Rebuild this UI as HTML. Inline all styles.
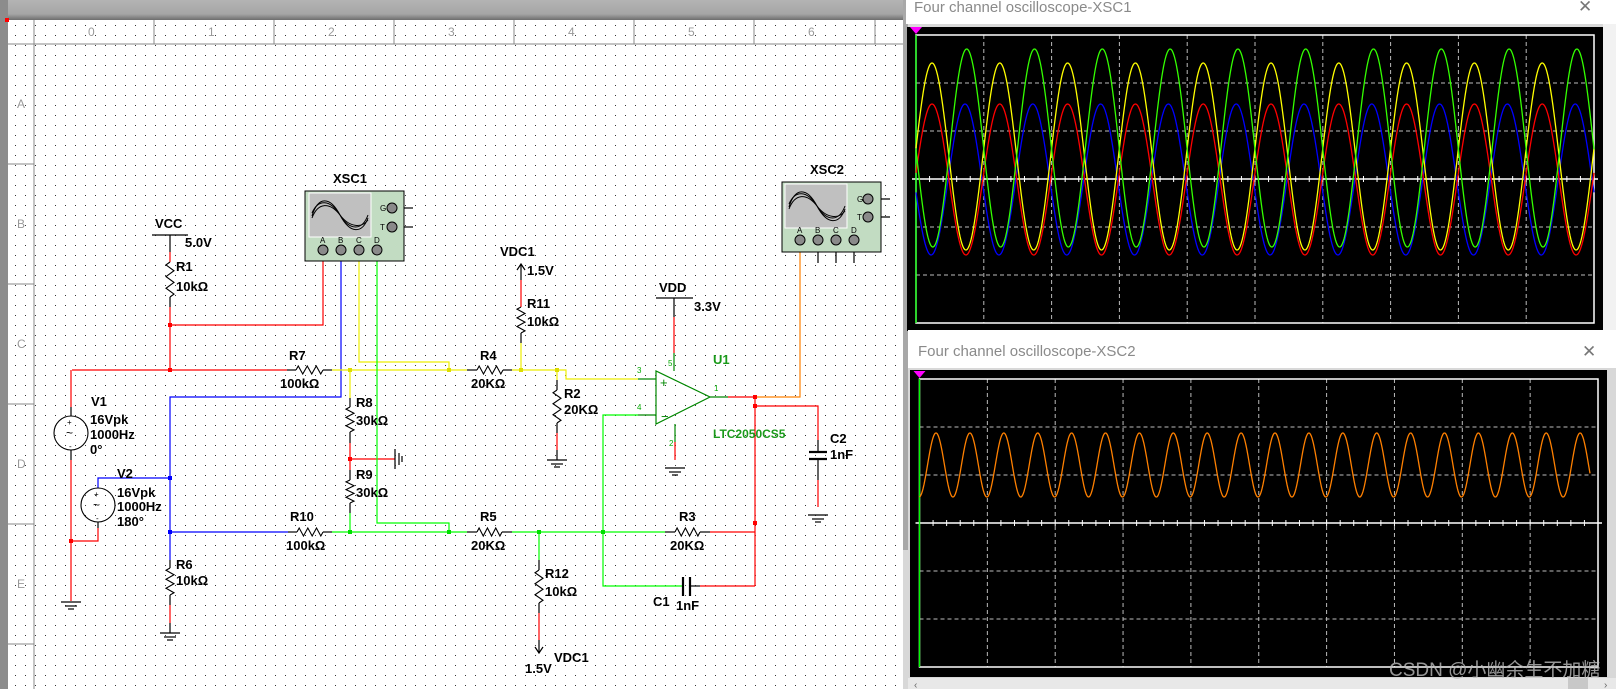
<!DOCTYPE html>
<html><head><meta charset="utf-8"><style>
html,body{margin:0;padding:0;background:#fff;}
svg{display:block;}
.l{font-family:"Liberation Sans",sans-serif;font-size:13px;font-weight:bold;fill:#000;}
.s{font-family:"Liberation Sans",sans-serif;font-size:8px;fill:#000;}
.g{font-family:"Liberation Sans",sans-serif;font-size:8px;fill:#0a0;}
.ru{font-family:"Liberation Sans",sans-serif;font-size:12px;fill:#999;}
.t{font-family:"Liberation Sans",sans-serif;font-size:15px;fill:#8a8a8a;}
</style></head><body>
<svg id="s" width="1616" height="689" viewBox="0 0 1616 689" xmlns="http://www.w3.org/2000/svg">
<defs>
<pattern id="dots" x="5" y="5" width="10" height="10" patternUnits="userSpaceOnUse"><rect x="0" y="0" width="1" height="1" fill="#333"/></pattern>
<linearGradient id="tb" x1="0" y1="0" x2="0" y2="1"><stop offset="0" stop-color="#b4b4b4"/><stop offset="0.7" stop-color="#a6a6a6"/><stop offset="1" stop-color="#6e6e6e"/></linearGradient>
</defs>
<rect x="0" y="0" width="1616" height="689" fill="#fff"/>
<rect x="8" y="20" width="895" height="669" fill="url(#dots)"/>
<rect x="0" y="0" width="903" height="20" fill="url(#tb)"/>
<rect x="0" y="0" width="8" height="689" fill="#8c8c8c"/>
<rect x="5" y="18" width="4" height="4" fill="#f00"/>
<!-- rulers -->
<g stroke="#888" stroke-width="1">
<line x1="8" y1="44" x2="903" y2="44"/><line x1="34" y1="20" x2="34" y2="689"/>
<line x1="154" y1="20" x2="154" y2="44"/><line x1="274" y1="20" x2="274" y2="44"/><line x1="394" y1="20" x2="394" y2="44"/><line x1="514" y1="20" x2="514" y2="44"/><line x1="634" y1="20" x2="634" y2="44"/><line x1="754" y1="20" x2="754" y2="44"/><line x1="875" y1="20" x2="875" y2="44"/>
<line x1="8" y1="164" x2="34" y2="164"/><line x1="8" y1="284" x2="34" y2="284"/><line x1="8" y1="404" x2="34" y2="404"/><line x1="8" y1="524" x2="34" y2="524"/><line x1="8" y1="644" x2="34" y2="644"/>
</g>
<g class="ru"><text x="88" y="36">0</text><text x="208" y="36">1</text><text x="328" y="36">2</text><text x="448" y="36">3</text><text x="568" y="36">4</text><text x="688" y="36">5</text><text x="808" y="36">6</text>
<text x="17" y="108">A</text><text x="17" y="228">B</text><text x="17" y="348">C</text><text x="17" y="468">D</text><text x="17" y="588">E</text></g>

<g id="wires" fill="none" stroke-width="1.2">
<!-- red -->
<g stroke="#f00">
<polyline points="170,307 170,370"/><polyline points="170,252 170,262"/>
<polyline points="170,325 323,325 323,255"/>
<polyline points="72,370 287,370"/>
<polyline points="71,370 71,407"/><polyline points="71,460 71,601"/>
<polyline points="71,541 98,541 98,528"/>
<polyline points="350,443 350,470"/><polyline points="350,459 395,459"/>
<polyline points="521,280 521,307"/>
<polyline points="674,317 674,353"/>
<polyline points="557,433 557,450"/>
<polyline points="675,442 675,460"/>
<polyline points="728,397 755,397 755,586"/>
<polyline points="755,406 818,406 818,440"/><polyline points="818,480 818,507"/>
<polyline points="710,532 755,532"/><polyline points="700,586 755,586"/>
<polyline points="539,613 539,640"/>
<polyline points="170,605 170,623"/>
</g>
<g stroke="#00f">
<polyline points="341,255 341,397 170,397 170,560"/>
<polyline points="170,478 98,478 98,488"/>
<polyline points="170,532 288,532"/>
</g>
<g stroke="#ee0">
<polyline points="359,255 359,362 449,362 449,370"/>
<polyline points="332,370 467,370"/>
<polyline points="350,370 350,398"/>
<polyline points="512,370 566,370 566,379 638,379"/>
<polyline points="521,370 521,343"/>
<polyline points="557,370 557,380"/>
</g>
<g stroke="#0f0">
<polyline points="377,255 377,523 449,523 449,532"/>
<polyline points="332,532 467,532"/>
<polyline points="350,513 350,532"/>
<polyline points="512,532 665,532"/>
<polyline points="539,532 539,560"/>
<polyline points="638,415 603,415 603,586 683,586"/>
</g>
<g stroke="#ff8000"><polyline points="755,397 800,397 800,245"/></g>
<g stroke="#080">
<polyline points="638,379 656,379"/><polyline points="638,415 656,415"/>
<polyline points="674,353 674,371"/><polyline points="675,424 675,442"/>
<polyline points="710,397 728,397"/>
<polygon points="656,371 656,424 710,397"/>
</g>
<!-- black leads -->
<g stroke="#000">
<polyline points="152,235 188,235"/><polyline points="170,235 170,252"/><polyline points="170,297 170,307"/>
<polyline points="287,370 296,370"/><polyline points="323,370 332,370"/>
<polyline points="288,532 297,532"/><polyline points="323,532 332,532"/>
<polyline points="467,370 477,370"/><polyline points="503,370 512,370"/>
<polyline points="467,532 477,532"/><polyline points="502,532 512,532"/>
<polyline points="665,532 675,532"/><polyline points="700,532 710,532"/>
<polyline points="350,398 350,407"/><polyline points="350,432 350,443"/>
<polyline points="350,470 350,480"/><polyline points="350,503 350,513"/>
<polyline points="521,264 521,280"/><polyline points="517,270 521,264 525,270"/><polyline points="521,333 521,343"/>
<polyline points="557,380 557,390"/><polyline points="557,423 557,433"/><polyline points="557,450 557,460"/>
<polyline points="539,560 539,570"/><polyline points="539,603 539,613"/><polyline points="539,640 539,653"/><polyline points="535,647 539,653 543,647"/>
<polyline points="170,560 170,568"/><polyline points="170,595 170,605"/><polyline points="170,623 170,633"/>
<polyline points="656,298 693,298"/><polyline points="674,298 674,317"/>
<polyline points="71,407 71,416"/><polyline points="71,450 71,460"/>
<polyline points="98,488 98,488"/><polyline points="98,522 98,528"/>
<polyline points="818,440 818,452"/><polyline points="818,459 818,480"/>
<polyline points="683,586 683,586"/><polyline points="690,586 700,586"/>
<polyline points="413,208 397,208"/><polyline points="413,227 397,227"/>
<polyline points="890,199 873,199"/><polyline points="890,217 873,217"/>
<polyline points="818,245 818,263"/><polyline points="836,245 836,263"/><polyline points="854,245 854,263"/>
</g>
<g stroke="#000" stroke-width="2.2">
<line x1="809" y1="452" x2="827" y2="452"/><line x1="809" y1="459" x2="827" y2="459"/>
<line x1="683" y1="577" x2="683" y2="596"/><line x1="690" y1="577" x2="690" y2="596"/>
</g>
<g stroke="#000" id="gnds"></g>
<g fill="none" stroke="#000" stroke-width="1.1">
<circle cx="71" cy="433" r="17"/><circle cx="98" cy="505" r="17"/>
</g>
<path id="zz" fill="none" stroke="#000" stroke-width="1.1" d=""/>
</g>
<g class="s"><text x="67" y="425">+</text><text x="69" y="449">-</text><text x="66" y="437" font-size="12">~</text>
<text x="94" y="497">+</text><text x="96" y="521">-</text><text x="93" y="509" font-size="12">~</text></g>
<g fill="#00f"><rect x="168" y="476" width="4" height="4"/><rect x="168" y="530" width="4" height="4"/></g>
<g fill="#f00"><rect x="168" y="323" width="4" height="4"/><rect x="168" y="368" width="4" height="4"/><rect x="69" y="539" width="4" height="4"/><rect x="348" y="457" width="4" height="4"/><rect x="753" y="395" width="4" height="4"/><rect x="753" y="404" width="4" height="4"/><rect x="753" y="521" width="4" height="4"/></g>
<g fill="#dd0"><rect x="348" y="368" width="4" height="4"/><rect x="447" y="368" width="4" height="4"/><rect x="519" y="368" width="4" height="4"/><rect x="555" y="368" width="4" height="4"/></g>
<g fill="#0d0"><rect x="348" y="530" width="4" height="4"/><rect x="447" y="530" width="4" height="4"/><rect x="537" y="530" width="4" height="4"/><rect x="601" y="530" width="4" height="4"/></g>

<!-- scopes symbols -->
<rect x="305" y="191" width="99" height="70" fill="#c2dcc2" stroke="#000"/>
<rect x="309" y="193" width="62" height="44" fill="#c0c0c0" stroke="#fff"/>
<rect x="782" y="182" width="99" height="70" fill="#c2dcc2" stroke="#000"/>
<rect x="785" y="184" width="62" height="44" fill="#c0c0c0" stroke="#fff"/>
<g fill="none" stroke="#000" stroke-width="1">
<path d="M312,216 C318,196 330,196 340,215 C350,234 362,234 368,218"/>
<path d="M312,213 C318,199 330,199 340,215 C350,231 362,231 368,215"/>
<path d="M312,218 C318,202 330,202 340,215 C350,228 362,228 368,220"/>
<path d="M789,207 C795,187 807,187 817,206 C827,225 839,225 845,209"/>
<path d="M789,204 C795,190 807,190 817,206 C827,222 839,222 845,206"/>
<path d="M789,209 C795,193 807,193 817,206 C827,219 839,219 845,211"/>
</g>
<g fill="#8a8a8a" stroke="#000">
<circle cx="392" cy="208" r="5"/><circle cx="392" cy="227" r="5"/>
<circle cx="323" cy="250" r="5"/><circle cx="341" cy="250" r="5"/><circle cx="359" cy="250" r="5"/><circle cx="377" cy="250" r="5"/>
<circle cx="868" cy="199" r="5"/><circle cx="868" cy="217" r="5"/>
<circle cx="800" cy="240" r="5"/><circle cx="818" cy="240" r="5"/><circle cx="836" cy="240" r="5"/><circle cx="854" cy="240" r="5"/>
</g>
<g class="s"><text x="380" y="211">G</text><text x="380" y="230">T</text><text x="320" y="243">A</text><text x="338" y="243">B</text><text x="356" y="243">C</text><text x="374" y="243">D</text>
<text x="857" y="202">G</text><text x="857" y="220">T</text><text x="797" y="233">A</text><text x="815" y="233">B</text><text x="833" y="233">C</text><text x="851" y="233">D</text></g>
<text class="l" x="333" y="183" font-size="11">XSC1</text><text class="l" x="810" y="174" font-size="11">XSC2</text>

<g class="l">
<text x="155" y="228">VCC</text><text x="185" y="247">5.0V</text><text x="176" y="271">R1</text><text x="176" y="291">10kΩ</text>
<text x="289" y="360">R7</text><text x="280" y="388">100kΩ</text>
<text x="91" y="406">V1</text><text x="90" y="424">16Vpk</text><text x="90" y="439">1000Hz</text><text x="90" y="454">0°</text>
<text x="117" y="478">V2</text><text x="117" y="497">16Vpk</text><text x="117" y="511">1000Hz</text><text x="117" y="526">180°</text>
<text x="356" y="407">R8</text><text x="356" y="425">30kΩ</text><text x="356" y="479">R9</text><text x="356" y="497">30kΩ</text>
<text x="290" y="521">R10</text><text x="286" y="550">100kΩ</text>
<text x="176" y="569">R6</text><text x="176" y="585">10kΩ</text>
<text x="480" y="360">R4</text><text x="471" y="388">20KΩ</text>
<text x="480" y="521">R5</text><text x="471" y="550">20KΩ</text>
<text x="500" y="256">VDC1</text><text x="527" y="275">1.5V</text><text x="527" y="308">R11</text><text x="527" y="326">10kΩ</text>
<text x="564" y="398">R2</text><text x="564" y="414">20KΩ</text>
<text x="659" y="292">VDD</text><text x="694" y="311">3.3V</text>
<text x="830" y="443">C2</text><text x="830" y="459">1nF</text>
<text x="679" y="521">R3</text><text x="670" y="550">20KΩ</text>
<text x="653" y="606">C1</text><text x="676" y="610">1nF</text>
<text x="545" y="578">R12</text><text x="545" y="596">10kΩ</text>
<text x="554" y="662">VDC1</text><text x="525" y="673">1.5V</text>
<text x="713" y="364" fill="#1a9a1a">U1</text><text x="713" y="438" fill="#1a9a1a" font-size="12">LTC2050CS5</text>
</g>
<g class="g"><text x="637" y="373">3</text><text x="637" y="410">4</text><text x="714" y="391">1</text><text x="668" y="366">5</text><text x="669" y="446">2</text></g>
<text x="660" y="387" font-family="Liberation Sans" font-size="13" fill="#080">+</text>
<text x="661" y="421" font-family="Liberation Sans" font-size="13" fill="#080">−</text>

<!-- oscilloscope windows -->
<rect x="903" y="0" width="713" height="689" fill="#d8d8d8"/>
<rect x="903" y="0" width="5" height="550" fill="#a8a8a8"/>
<rect x="906" y="0" width="710" height="24" fill="#fff"/>
<text class="t" x="914" y="12">Four channel oscilloscope-XSC1</text>
<text x="1578" y="12" font-family="Liberation Sans" font-size="17" fill="#777">✕</text>
<rect x="907" y="27" width="696" height="304" fill="#000"/>
<rect x="1603" y="24" width="13" height="306" fill="#f2f2f2"/>
<g id="sc1"></g>
<rect x="908" y="330" width="708" height="38" fill="#fff"/>
<text class="t" x="918" y="356">Four channel oscilloscope-XSC2</text>
<text x="1582" y="357" font-family="Liberation Sans" font-size="17" fill="#777">✕</text>
<rect x="910" y="370" width="697" height="307" fill="#000"/>
<g id="sc2"></g>
<rect x="908" y="678" width="708" height="11" fill="#e8e8e8"/>
<rect x="1568" y="678" width="20" height="11" fill="#c8c8c8"/>
<text x="914" y="688" font-family="Liberation Sans" font-size="10" fill="#666">‹</text><text x="1604" y="688" font-family="Liberation Sans" font-size="10" fill="#666">›</text>
<text x="1389" y="676" font-family="Liberation Sans, Noto Sans CJK SC, sans-serif" font-size="19" fill="#bbb" fill-opacity="0.8">CSDN @小幽余生不加糖</text>
</svg>
<script>
var NS="http://www.w3.org/2000/svg",S=document.getElementById('s');
function el(p,t,a){var e=document.createElementNS(NS,t);for(var k in a)e.setAttribute(k,a[k]);p.appendChild(e);return e;}
// zigzags
var d="";
function hz(x1,x2,y){var n=6,w=(x2-x1)/n;d+="M"+x1+","+y;for(var i=0;i<n;i++){d+=" L"+(x1+w*(i+0.5))+","+(y+(i%2?4:-4));}d+=" L"+x2+","+y;}
function vz(x,y1,y2){var n=6,w=(y2-y1)/n;d+="M"+x+","+y1;for(var i=0;i<n;i++){d+=" L"+(x+(i%2?4:-4))+","+(y1+w*(i+0.5));}d+=" L"+x+","+y2;}
hz(296,323,370);hz(297,323,532);hz(477,503,370);hz(477,502,532);hz(675,700,532);
vz(170,262,297);vz(350,407,432);vz(350,480,503);vz(521,307,333);vz(557,390,423);vz(539,570,603);vz(170,568,595);
document.getElementById('zz').setAttribute('d',d);
var G=document.getElementById('gnds');
function gnd(x,y){el(G,'line',{x1:x-10,y1:y,x2:x+10,y2:y});el(G,'line',{x1:x-6,y1:y+4,x2:x+6,y2:y+4});el(G,'line',{x1:x-3,y1:y+7,x2:x+3,y2:y+7});}
gnd(71,602);gnd(170,633);gnd(557,460);gnd(675,468);gnd(818,515);
el(G,'line',{x1:395,y1:449,x2:395,y2:469});el(G,'line',{x1:399,y1:453,x2:399,y2:465});el(G,'line',{x1:402,y1:456,x2:402,y2:462});
function scope(g,x0,y0,x1,y1,cy){
 var dv=(x1-x0)/10,dh=(y1-y0)/6,i;
 for(i=1;i<10;i++)el(g,'line',{x1:x0+dv*i,y1:y0,x2:x0+dv*i,y2:y1,stroke:'#bbb','stroke-dasharray':'4,3'});
 for(i=1;i<6;i++)if(i!=3)el(g,'line',{x1:x0,y1:y0+dh*i,x2:x1,y2:y0+dh*i,stroke:'#bbb','stroke-dasharray':'4,3'});
 el(g,'rect',{x:x0,y:y0,width:x1-x0,height:y1-y0,fill:'none',stroke:'#fff','stroke-width':1.5});
 el(g,'line',{x1:x0-4,y1:cy,x2:x1+4,y2:cy,stroke:'#fff','stroke-width':1.5});
 for(i=0;i<=50;i++){var x=x0+dv/5*i;el(g,'line',{x1:x,y1:cy-3,x2:x,y2:cy+3,stroke:'#fff'});}
 el(g,'line',{x1:x0,y1:y0,x2:x0,y2:y1,stroke:'#0f0','stroke-width':1.3});
 el(g,'polygon',{points:(x0-6)+","+(y0-8)+" "+(x0+6)+","+(y0-8)+" "+x0+","+(y0-1),fill:'#f0f'});
}
function wave(g,x0,x1,P,c,a,xp,col){var p="";for(var x=x0;x<=x1;x+=0.5){var y=c-a*Math.cos(2*Math.PI*(x-xp)/P);p+=(p?" L":"M")+x.toFixed(1)+","+y.toFixed(1);}el(g,'path',{d:p,fill:'none',stroke:col,'stroke-width':1.3});}
var g1=document.getElementById('sc1');scope(g1,916,35,1594,323,179);
wave(g1,916,1594,67.8,179.5,75.5,965,'#00f');
wave(g1,916,1594,67.8,179.5,75.5,932,'#f00');
wave(g1,916,1594,67.8,156.5,93.5,932,'#ff0');
wave(g1,916,1594,67.8,148,99,966.7,'#3f0');
var g2=document.getElementById('sc2');scope(g2,919.5,379,1598,667,523);
wave(g2,919.5,1590,33.9,465,32,936,'#ff8000');
</script>
</body></html>
